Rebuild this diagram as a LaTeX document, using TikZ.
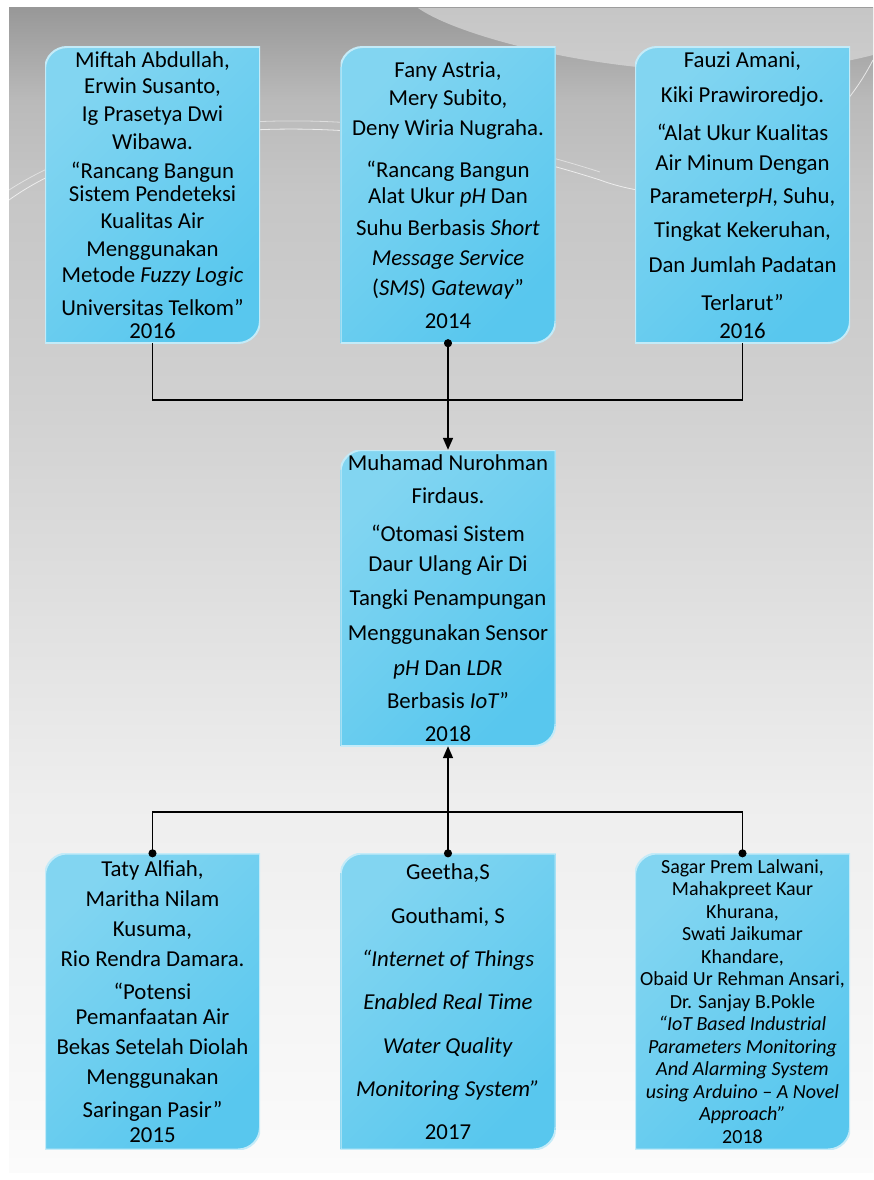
\documentclass[tikz,border=0pt]{standalone}
\usepackage{fontspec}
\setmainfont{Carlito}
\usepackage{tikz}
\usetikzlibrary{arrows.meta,calc}
\definecolor{cardlite}{RGB}{130,213,241}
\definecolor{carddark}{RGB}{88,199,238}
\definecolor{cardedge}{RGB}{196,235,248}
\definecolor{bgtop}{RGB}{152,152,152}
\definecolor{bgupper}{RGB}{186,186,186}
\definecolor{bghigh}{RGB}{198,198,198}
\definecolor{bgmid}{RGB}{209,209,209}
\definecolor{bglow}{RGB}{238,238,238}
\definecolor{bgbot}{RGB}{251,251,251}
\definecolor{swoosh}{RGB}{218,218,218}
\pgfdeclareverticalshading{pagebg}{100bp}{color(0bp)=(bgbot); color(25bp)=(bgbot);
  color(41bp)=(bglow); color(58bp)=(bgmid); color(67bp)=(bghigh);
  color(71bp)=(bgupper); color(75bp)=(bgtop); color(100bp)=(bgtop)}

\begin{document}
\begin{tikzpicture}[x=1pt, y=1pt,
  card/.style={rectangle, inner sep=0pt, minimum width=215pt, minimum height=296pt,
               align=center, font=\fontsize{22.8}{27}\selectfont,
               path picture={
                 \shadedraw[top color=cardlite, bottom color=carddark, shading angle=45,
                            draw=cardedge, line width=2pt]
                   (path picture bounding box.south west)
                   -- ([yshift=-22pt]path picture bounding box.north west)
                   arc[start angle=180, end angle=90, radius=22pt]
                   -- (path picture bounding box.north east)
                   -- ([yshift=22pt]path picture bounding box.south east)
                   arc[start angle=0, end angle=-90, radius=22pt]
                   -- cycle;
               }},
  link/.style={line width=1.7pt, black},
  dotarr/.style={link, {Circle[length=8pt]}-{Triangle[length=12pt,width=10pt]}, shorten <=-4pt},
  dotdot/.style={link, {Circle[length=8pt]}-{Circle[length=8pt]}, shorten <=-4pt, shorten >=-4pt}
]
% Page and background
\fill[white] (0,0) rectangle (873,-1180);
\useasboundingbox (0,0) rectangle (873,-1180);
\shade[shading=pagebg] (9,-8) rectangle (873,-1172);
\fill[swoosh, opacity=0.7] (418,-8) .. controls (470,-45) and (700,-100) .. (873,-55) -- (873,-8) -- cycle;
\draw[white, opacity=0.7, line width=0.8pt] (9,-200) .. controls (120,-120) and (350,-100) .. (600,-180)
  .. controls (640,-195) and (700,-200) .. (760,-190);
\draw[white, opacity=0.5, line width=0.8pt] (9,-190) .. controls (130,-112) and (350,-92) .. (600,-172);
\draw[white, opacity=0.7, line width=0.8pt] (820,-130) .. controls (845,-105) and (860,-85) .. (873,-60);

% Top row
\node[card] (miftah) at (152.5,-195)
  {Miftah Abdullah,\\[-1pt]
   Erwin Susanto,\\[1pt]
   Ig Prasetya Dwi\\[1pt]
   Wibawa.\\[2pt]
   “Rancang Bangun\\[-4pt]
   Sistem Pendeteksi\\[0pt]
   Kualitas Air\\[1pt]
   Menggunakan\\[-1pt]
   Metode \textit{Fuzzy Logic}\\[6pt]
   Universitas Telkom”\\[-4pt]
   2016};

\node[card] (fany) at (448,-195)
  {Fany Astria,\\[1pt]
   Mery Subito,\\[3pt]
   Deny Wiria Nugraha.\\[15pt]
   “Rancang Bangun\\[-1pt]
   Alat Ukur \textit{pH} Dan\\[5pt]
   Suhu Berbasis \textit{Short}\\[3pt]
   \textit{Message Service}\\[3pt]
   (\textit{SMS}) \textit{Gateway}”\\[6pt]
   2014};

\node[card] (fauzi) at (742.5,-195)
  {Fauzi Amani,\\[8pt]
   Kiki Prawiroredjo.\\[11pt]
   “Alat Ukur Kualitas\\[3pt]
   Air Minum Dengan\\[6pt]
   Parameter\textit{pH}, Suhu,\\[7pt]
   Tingkat Kekeruhan,\\[8pt]
   Dan Jumlah Padatan\\[11pt]
   Terlarut”\\[1pt]
   2016};

% Middle
\node[card] (nurohman) at (448,-598)
  {Muhamad Nurohman\\[6pt]
   Firdaus.\\[11pt]
   “Otomasi Sistem\\[3pt]
   Daur Ulang Air Di\\[7pt]
   Tangki Penampungan\\[8pt]
   Menggunakan Sensor\\[8pt]
   \textit{pH} Dan \textit{LDR}\\[6pt]
   Berbasis \textit{IoT}”\\[6pt]
   2018};

% Bottom row
\node[card] (taty) at (152.5,-1001.5)
  {Taty Alfiah,\\[3pt]
   Maritha Nilam\\[3pt]
   Kusuma,\\[3pt]
   Rio Rendra Damara.\\[6pt]
   “Potensi\\[-2pt]
   Pemanfaatan Air\\[3pt]
   Bekas Setelah Diolah\\[3pt]
   Menggunakan\\[6pt]
   Saringan Pasir”\\[-2pt]
   2015};

\node[card] (geetha) at (448,-1001.5)
  {Geetha,S\\[17pt]
   Gouthami, S\\[16pt]
   \textit{“Internet of Things}\\[16pt]
   \textit{Enabled Real Time}\\[17pt]
   \textit{Water Quality}\\[16pt]
   \textit{Monitoring System”}\\[16pt]
   2017};

\node[card, font=\fontsize{20}{22.5}\selectfont] (sagar) at (742.5,-1001.5)
  {Sagar Prem Lalwani,\\
   Mahakpreet Kaur\\
   Khurana,\\
   Swati Jaikumar\\
   Khandare,\\
   Obaid Ur Rehman Ansari,\\
   Dr. Sanjay B.Pokle\\
   \textit{“IoT Based Industrial}\\
   \textit{Parameters Monitoring}\\
   \textit{And Alarming  System}\\
   \textit{using Arduino – A Novel}\\
   \textit{Approach”}\\
   2018};

% Connectors
\draw[link] (miftah.south) -- ++(0,-57) -| (fauzi.south);
\draw[dotarr] (fany.south) -- (nurohman.north);
\draw[dotarr] (geetha.north) -- (nurohman.south);
\draw[dotdot] (taty.north) -- ++(0,41) -| (sagar.north);
\end{tikzpicture}
\end{document}
